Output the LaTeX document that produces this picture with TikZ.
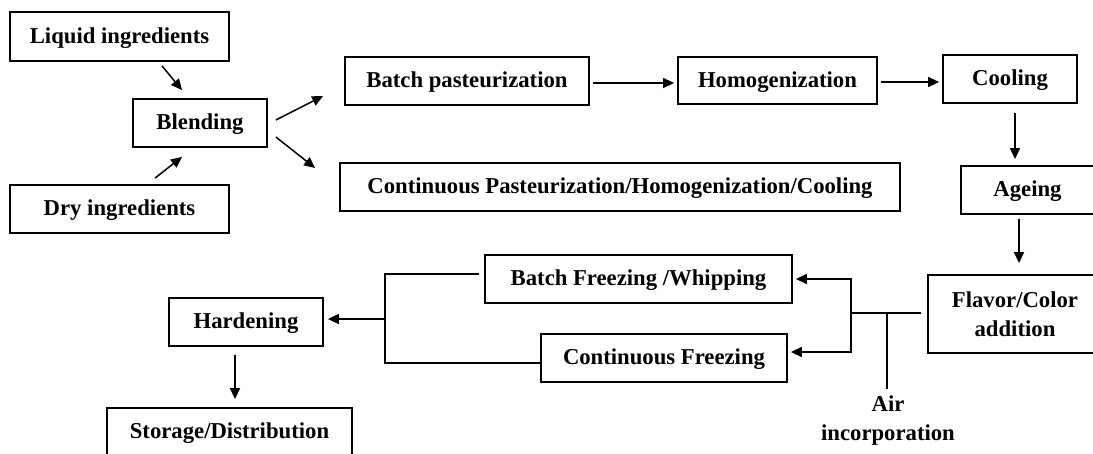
\documentclass[tikz,border=0pt]{standalone}
\usepackage{fontspec}
\setmainfont{Liberation Serif}
\usepackage{tikz}
\usetikzlibrary{arrows.meta}

\begin{document}
\begin{tikzpicture}[x=1pt, y=-1pt,
	box/.style={draw, line width=1.8pt, inner sep=0pt, minimum height=48pt, text height=17pt, text depth=4pt, font=\fontsize{22.7}{29}\selectfont\bfseries},
	link/.style={line width=1.5pt},
	arr/.style={link, -{Triangle[length=11pt,width=10pt]}}]
	\useasboundingbox[fill=white] (0,0) rectangle (1093,453);
	\node[box, minimum width=219pt, minimum height=49pt] (liquid) at (119.5,36.5) {Liquid ingredients};
	\node[box, minimum width=134pt] (blending) at (200,123) {Blending};
	\node[box, minimum width=219pt] (dry) at (119.5,209) {Dry ingredients};
	\node[box, minimum width=244pt] (batchp) at (467,81) {Batch pasteurization};
	\node[box, minimum width=199pt, minimum height=47pt] (homog) at (777.5,80.5) {Homogenization};
	\node[box, minimum width=134pt] (cooling) at (1010,79) {Cooling};
	\node[box, minimum width=560pt] (contp) at (620,187) {Continuous Pasteurization/Homogenization/Cooling};
	\node[box, minimum width=133pt] (ageing) at (1027.5,190) {Ageing};
	\node[box, minimum width=174pt, minimum height=78pt, text height={}, text depth={}, align=center] (flavor) at (1015,314) {Flavor/Color\\addition};
	\node[box, minimum width=307pt] (batchf) at (638.5,279) {Batch Freezing /Whipping};
	\node[box, minimum width=246pt] (contf) at (664,358) {Continuous Freezing};
	\node[box, minimum width=154pt] (harden) at (246,322) {Hardening};
	\node[box, minimum width=245pt] (storage) at (229.5,432) {Storage/Distribution};
	\node[box, draw=none, text height={}, text depth={}, align=center] (air) at (888,421) {Air\\incorporation};

	\draw[arr] ([xshift=42.5pt,yshift=-4pt]liquid.south) -- ([xshift=-18pt,yshift=8pt]blending.north);
	\draw[arr] ([xshift=35.5pt,yshift=6pt]dry.north) -- ([xshift=-18pt,yshift=-9pt]blending.south);
	\draw[arr] ([xshift=8pt,yshift=3pt]blending.east) -- ([xshift=-21pt,yshift=-15pt]batchp.west);
	\draw[arr] ([xshift=8pt,yshift=-14pt]blending.east) -- ([xshift=-24pt,yshift=19pt]contp.west);
	\draw[arr] ([xshift=3pt,yshift=-2pt]batchp.east) -- ([xshift=-3pt,yshift=-2pt]batchp.east -| homog.west);
	\draw[arr] ([xshift=3pt,yshift=-1.5pt]homog.east) -- ([xshift=-3pt,yshift=-1.5pt]homog.east -| cooling.west);
	\draw[arr] ([xshift=5pt,yshift=-9pt]cooling.south) -- ([xshift=5pt,yshift=6pt]cooling.south |- ageing.north);
	\draw[arr] ([xshift=-8.5pt,yshift=-4pt]ageing.south) -- ([xshift=-8.5pt,yshift=11pt]ageing.south |- flavor.north);

	\coordinate (fork) at (851,313);
	\coordinate (forktop) at (851,279);
	\coordinate (forkbot) at (851,352);
	\coordinate (airjoin) at (887,313);
	\draw[link] ([xshift=-6pt,yshift=1pt]flavor.west) -- (fork);
	\draw[arr] (fork) -- (forktop) -- ([xshift=3pt]forktop -| batchf.east);
	\draw[arr] (fork) -- (forkbot) -- ([xshift=3pt]forkbot -| contf.east);
	\draw[link] (airjoin) -- ([yshift=6pt]airjoin |- air.north);

	\coordinate (join) at (385,319);
	\draw[link] ([xshift=-5pt,yshift=5pt]batchf.west) -| (join);
	\draw[link] ([yshift=-5pt]contf.west) -| (join);
	\draw[arr] (join) -- ([xshift=4pt]join -| harden.east);
	\draw[arr] ([xshift=-11pt,yshift=-8pt]harden.south) -- ([xshift=-11pt,yshift=8pt]harden.south |- storage.north);
\end{tikzpicture}
\end{document}
